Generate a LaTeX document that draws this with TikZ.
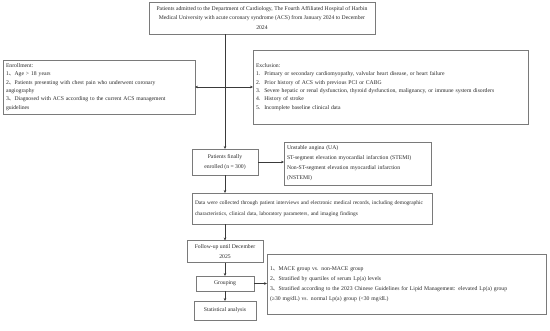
\documentclass[tikz,border=0pt]{standalone}
\usepackage{fontspec}
\setmainfont{Liberation Serif}
\newfontfamily\cjk{Noto Sans CJK SC}
\usetikzlibrary{arrows.meta}
\newcommand{\dun}{{\cjk 、}}
\newcommand{\nsp}{\hspace{0.7em}}
\definecolor{boxgray}{HTML}{7A7A7A}
\definecolor{txt}{HTML}{2A2A2A}
\definecolor{linegray}{HTML}{3A3A3A}
\begin{document}
\begin{tikzpicture}[x=1pt,y=-1pt,
  box/.style={draw=boxgray, line width=0.8pt, inner ysep=0pt, inner xsep=3pt, outer sep=0pt,
    font=\fontsize{5.7}{10}\selectfont, text=txt},
  tight/.style={font=\fontsize{5.7}{8.3}\selectfont},
  cbox/.style={box, align=center},
  lbox/.style={box, align=left},
  conn/.style={draw=linegray, line width=0.6pt, -{Stealth[length=3pt,width=2.6pt]}}
]
\fill[white] (0,0) rectangle (550,330);
\useasboundingbox (0,0) rectangle (550,330);

\node[cbox, font=\fontsize{5.7}{9.6}\selectfont, minimum width=226pt, minimum height=32pt] (top) at (262,18)
  {Patients admitted to the Department of Cardiology, The Fourth Affiliated Hospital of Harbin\\
   Medical University with acute coronary syndrome (ACS) from January 2024 to December\\
   2024};

\node[lbox, tight, text width=186pt, minimum height=54pt] (enroll) at (99,87)
  {Enrollment:\\
   1\dun Age > 18 years\\
   2\dun Patients presenting with chest pain who underwent coronary\\
   angiography\\
   3\dun Diagnosed with ACS according to the current ACS management\\
   guidelines};

\node[lbox, tight, text width=269pt, minimum height=74pt] (excl) at (390.5,87)
  {Exclusion:\\
   1.\nsp Primary or secondary cardiomyopathy, valvular heart disease, or heart failure\\
   2.\nsp Prior history of ACS with previous PCI or CABG\\
   3.\nsp Severe hepatic or renal dysfunction, thyroid dysfunction, malignancy, or immune system disorders\\
   4.\nsp History of stroke\\
   5.\nsp Incomplete baseline clinical data};

\coordinate (j) at (225,87);

\node[cbox, minimum width=66pt, minimum height=26pt] (enrolled) at (225,162)
  {Patients finally\\ enrolled (n = 300)};

\node[lbox, text width=141pt, minimum height=43pt] (ua) at (357.5,163.5)
  {Unstable angina (UA)\\
   ST-segment elevation myocardial infarction (STEMI)\\
   Non-ST-segment elevation myocardial infarction\\
   (NSTEMI)};

\node[lbox, font=\fontsize{5.45}{10.5}\selectfont, text width=234pt, minimum height=31pt] (data) at (312,208.5)
  {Data were collected through patient interviews and electronic medical records, including demographic\\
   characteristics, clinical data, laboratory parameters, and imaging findings};

\node[cbox, minimum width=76pt, minimum height=22pt] (follow) at (225,251.5)
  {Follow-up until December\\ 2025};

\node[cbox, minimum width=58pt, minimum height=15pt] (group) at (225,283.5) {Grouping};

\node[cbox, minimum width=62pt, minimum height=19pt] (stat) at (225,310.5) {Statistical analysis};

\node[lbox, text width=273pt, minimum height=60pt] (glist) at (406.5,284)
  {1\dun MACE group vs. non-MACE group\\
   2\dun Stratified by quartiles of serum Lp(a) levels\\
   3\dun Stratified according to the 2023 Chinese Guidelines for Lipid Management: elevated Lp(a) group\\
   (≥30 mg/dL) vs. normal Lp(a) group (<30 mg/dL)};

\draw[conn] (top.south -| enrolled.north) -- (enrolled.north);
\draw[conn] (j) -- (enroll.east);
\draw[conn] (j) -- (excl.west);
\draw[conn] (enrolled.east) -- (ua.west |- enrolled.east);
\draw[conn] (enrolled.south) -- (data.north -| enrolled.south);
\draw[conn] (data.south -| follow.north) -- (follow.north);
\draw[conn] (follow.south) -- (group.north);
\draw[conn] (group.east) -- (glist.west |- group.east);
\draw[conn] (group.south) -- (stat.north);
\end{tikzpicture}
\end{document}
